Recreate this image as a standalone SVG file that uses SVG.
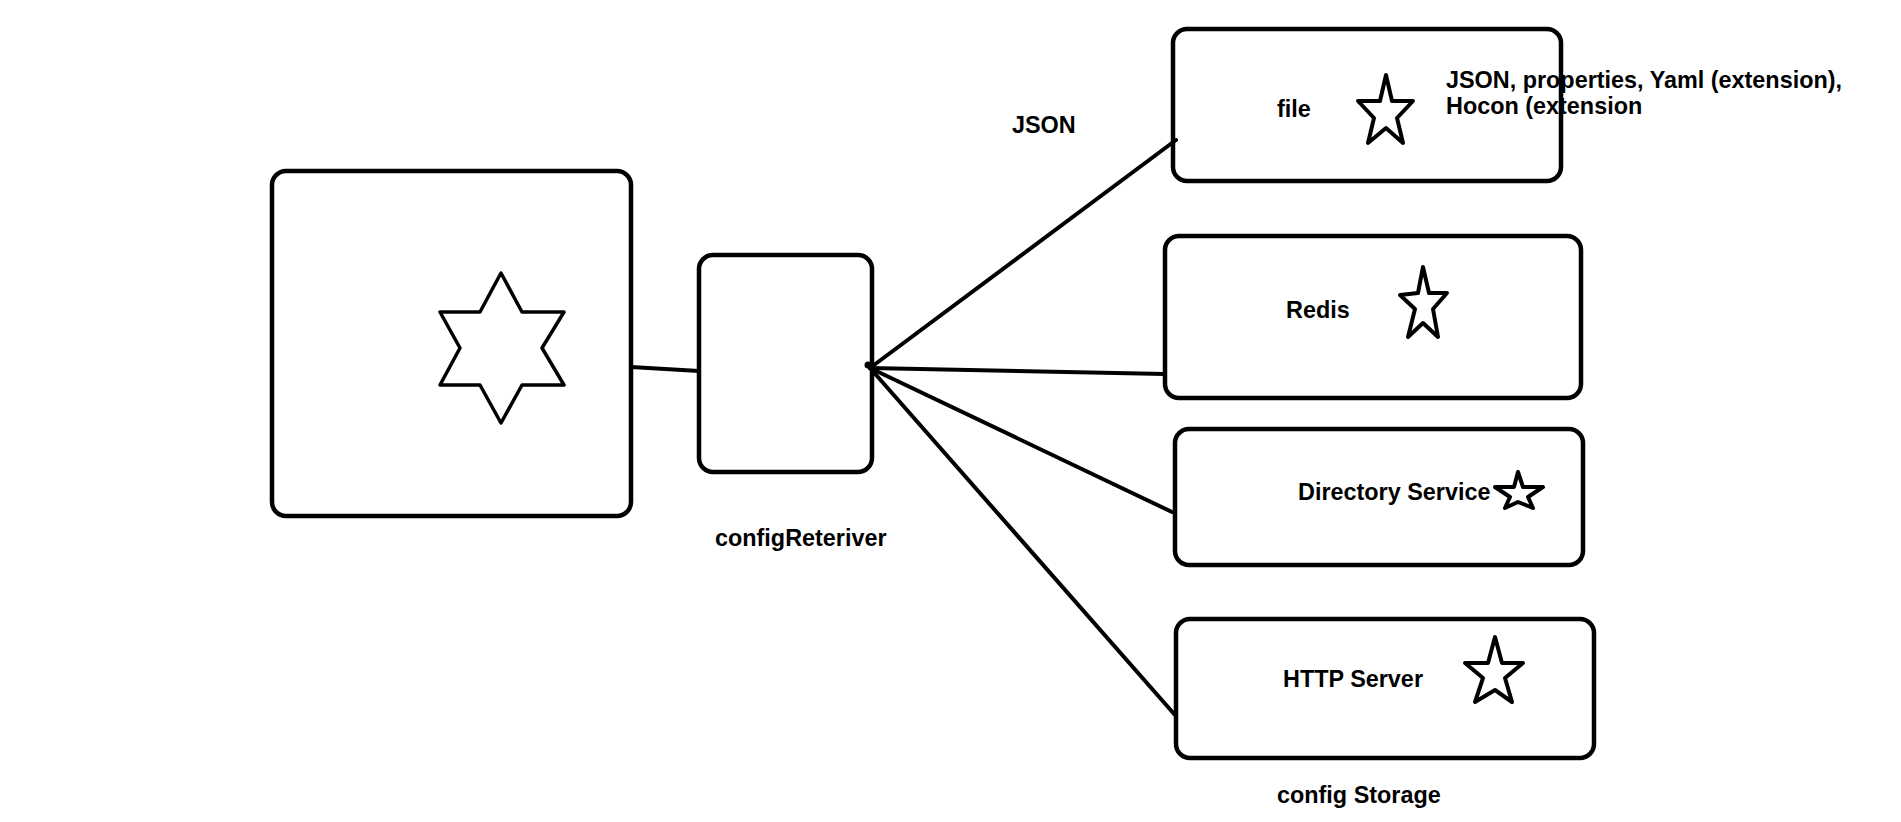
<svg xmlns="http://www.w3.org/2000/svg" width="1901" height="822" viewBox="0 0 1901 822">
<style>
.box{fill:none;stroke:#000;stroke-width:4.5}
.star{fill:none;stroke:#000;stroke-width:4;stroke-linejoin:round}
.hex{fill:none;stroke:#000;stroke-width:3.5;stroke-linejoin:round}
.con{fill:none;stroke:#000;stroke-width:4;stroke-linecap:round}
.lbl{font-family:"Liberation Sans",Arial,sans-serif;font-weight:bold;font-size:23.4px;fill:#000}
</style>
<rect x="0" y="0" width="1901" height="822" fill="#fff"/>
<g id="connectors">
<line class="con" x1="631" y1="367" x2="699" y2="371"/>
<line class="con" x1="870" y1="368" x2="1176" y2="140"/>
<line class="con" x1="870" y1="368" x2="1165" y2="374"/>
<line class="con" x1="870" y1="368" x2="1172" y2="512"/>
<line class="con" x1="870" y1="368" x2="1175" y2="715"/>
<circle cx="868" cy="365" r="3.5" fill="#000"/>
</g>
<g id="app">
<rect class="box" x="272" y="171" width="359" height="345" rx="14" ry="14"/>
<polygon class="hex" points="501,273 522,312 564,312 542,348 564,385 522,385 501,423 480,385 440,385 460,348 440,312 480,312"/>
</g>
<g id="configRetriever">
<rect class="box" x="699" y="255" width="173" height="217" rx="14" ry="14"/>
<text class="lbl" x="715" y="546">configReteriver</text>
</g>
<g id="json-label">
<text class="lbl" x="1012" y="133">JSON</text>
</g>
<g id="file">
<rect class="box" x="1173" y="29" width="388" height="152" rx="14" ry="14"/>
<text class="lbl" x="1277" y="117">file</text>
<polygon class="star" points="1386,75 1380,101 1358,101 1374,118 1368,143 1386,128 1403,143 1397,118 1413,101 1392,101"/>
<text class="lbl" x="1446" y="88">JSON, properties, Yaml (extension),</text>
<text class="lbl" x="1446" y="114">Hocon (extension</text>
</g>
<g id="redis">
<rect class="box" x="1165" y="236" width="416" height="162" rx="14" ry="14"/>
<text class="lbl" x="1286" y="318">Redis</text>
<polygon class="star" points="1423,267 1418,293 1400,295 1415,309 1408,337 1423,323 1438,337 1433,309 1447,293 1429,293"/>
</g>
<g id="directory">
<rect class="box" x="1175" y="429" width="408" height="136" rx="14" ry="14"/>
<text class="lbl" x="1298" y="500">Directory Service</text>
<polygon class="star" points="1518,472 1514,487 1495,487 1510,497 1505,508 1518,502 1533,508 1528,497 1543,487 1523,487"/>
</g>
<g id="http">
<rect class="box" x="1176" y="619" width="418" height="139" rx="14" ry="14"/>
<text class="lbl" x="1283" y="687">HTTP Server</text>
<polygon class="star" points="1495,637 1488,663 1465,663 1483,678 1475,702 1495,690 1512,702 1505,678 1523,663 1502,663"/>
</g>
<g id="storage-label">
<text class="lbl" x="1277" y="803">config Storage</text>
</g>
</svg>
